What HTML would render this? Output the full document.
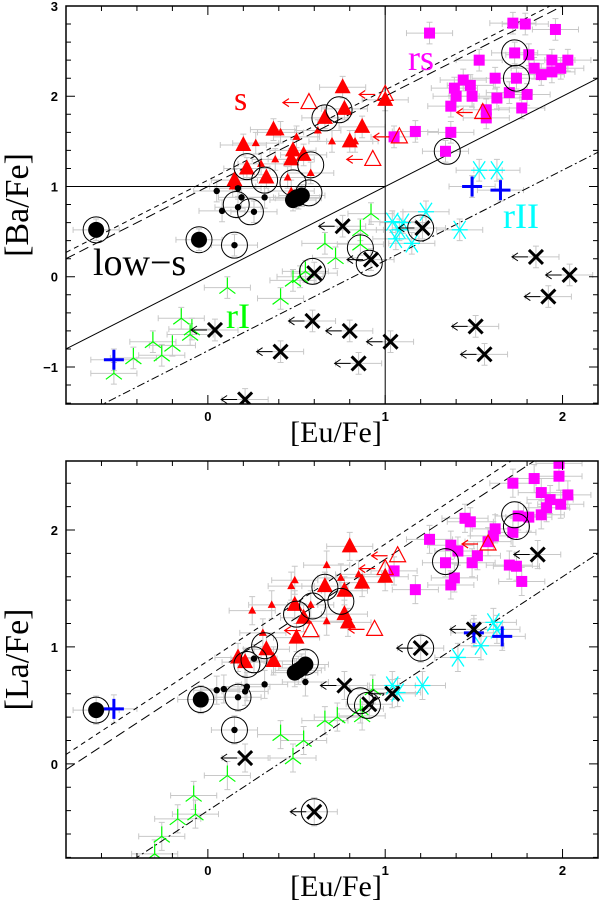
<!DOCTYPE html>
<html><head><meta charset="utf-8"><style>
html,body{margin:0;padding:0;background:#fff;}
svg{display:block;}
text{font-family:"Liberation Serif",serif;}
.tk{font-family:"Liberation Sans",sans-serif;font-size:13px;font-weight:bold;}
</style></head><body>
<svg id="chart" width="600" height="909" viewBox="0 0 600 909" xmlns="http://www.w3.org/2000/svg"></svg>
<script>
// ===== Top panel data: [Eu/Fe], [Ba/Fe] =====
const topBigDots=[[-0.63,0.52],[-0.05,0.41],[0.48,0.85],[0.51,0.87],[0.53,0.9],[0.5,0.88]];
const topSmallDots=[[0.05,0.95],[0.17,0.98],[0.19,0.88],[0.17,0.77],[0.08,0.73],[0.26,0.72],[0.32,0.88],[0.15,0.35]];
const topRings=[[-0.63,0.52],[-0.05,0.41],[0.22,1.22],[0.32,1.07],[0.16,0.8],[0.24,0.72],[0.15,0.35],[0.66,1.76],[0.74,1.85],[0.58,1.24],[0.48,1.04],[0.57,0.93],[0.86,0.32],[0.91,0.15],[1.2,0.54],[0.59,0.06],[1.73,2.48],[1.74,2.2],[1.35,1.39]];
const topBigTri=[[0.2,1.46],[0.22,1.2],[0.37,1.63],[0.33,1.1],[0.15,1.07],[0.48,1.4],[0.76,2.1],[0.77,1.86],[0.66,1.76],[0.87,1.66],[0.8,1.5],[1.0,1.96],[0.54,1.35],[0.47,1.3]];
const topSmallTri=[[0.27,1.48],[0.41,1.6],[0.45,1.1],[0.3,1.25],[0.7,1.5],[0.83,1.5],[0.62,1.62],[0.47,0.95],[0.14,1.0],[0.38,1.3],[0.5,1.55],[0.58,1.15]];
const topOpenTri=[[0.57,1.93],[1.0,2.02],[0.93,1.3],[1.08,1.55],[1.55,1.82]];
const topSquares=[[1.25,2.7],[1.72,2.81],[1.79,2.8],[1.96,2.74],[1.53,2.4],[1.73,2.48],[1.81,2.46],[1.94,2.4],[2.03,2.4],[1.84,2.31],[1.88,2.24],[1.94,2.27],[1.99,2.31],[1.44,2.18],[1.62,2.2],[1.74,2.2],[1.39,2.09],[1.48,2.12],[1.4,2.0],[1.49,2.0],[1.63,1.98],[1.7,2.04],[1.8,2.02],[1.37,1.89],[1.57,1.85],[1.57,1.76],[1.77,1.87],[1.05,1.55],[1.17,1.61],[1.37,1.6],[1.34,1.39]];
const topCyan=[[1.53,1.18],[1.63,1.18],[1.04,0.61],[1.08,0.52],[1.23,0.72],[1.06,0.42],[1.15,0.37],[1.42,0.52],[1.1,0.6]];
const topBlue=[[1.49,1.0],[1.65,0.96],[-0.53,-0.92]];
const topGreen=[[0.11,-0.12],[-0.15,-0.46],[-0.09,-0.58],[-0.31,-0.72],[-0.2,-0.76],[-0.26,-0.87],[-0.42,-0.9],[-0.53,-1.07],[-0.1,-0.64],[0.41,-0.24],[0.48,-0.04],[0.92,0.7],[0.86,0.52],[0.66,0.37],[0.72,0.21],[0.52,0.0],[0.55,0.06],[0.86,0.36]];
const topX=[[0.04,-0.59],[0.41,-0.83],[0.21,-1.36],[0.76,0.56],[0.6,0.04],[0.92,0.19],[1.21,0.54],[0.59,-0.49],[0.8,-0.6],[1.03,-0.72],[0.85,-0.96],[1.51,-0.55],[1.56,-0.86],[1.85,0.22],[2.04,0.02],[1.92,-0.22]];
const topXArrow=[1,1,1,1,0,1,1,1,1,1,1,1,1,1,1,1];
// ===== Bottom panel data: [Eu/Fe], [La/Fe] =====
const botBigDots=[[-0.63,0.46],[-0.04,0.55],[0.49,0.78],[0.53,0.82],[0.55,0.85],[0.51,0.8]];
const botSmallDots=[[0.05,0.63],[0.09,0.64],[0.22,0.66],[0.21,0.62],[0.32,0.68],[0.26,0.9],[0.17,0.57],[0.15,0.29],[0.55,0.7]];
const botRings=[[-0.63,0.46],[-0.04,0.55],[0.17,0.57],[0.15,0.29],[0.32,1.01],[0.26,0.89],[0.22,0.85],[0.5,1.28],[0.59,1.35],[0.66,1.51],[0.75,1.39],[0.55,0.87],[0.86,0.54],[0.9,0.5],[1.2,0.99],[0.6,-0.41],[1.34,1.73],[1.73,2.13],[1.74,2.03]];
const botBigTri=[[0.17,0.91],[0.21,0.87],[0.37,0.88],[0.33,0.98],[0.49,1.36],[0.5,1.08],[0.54,1.25],[0.66,1.52],[0.77,1.48],[0.77,1.28],[0.79,1.21],[0.8,1.86],[0.87,1.55],[1.0,1.6]];
const botSmallTri=[[0.25,1.31],[0.36,1.36],[0.49,1.57],[0.47,1.52],[0.67,1.7],[0.58,1.36],[0.67,1.22],[0.85,1.62],[0.75,1.59],[0.31,1.12]];
const botOpenTri=[[0.58,1.14],[0.94,1.15],[1.07,1.78],[1.0,1.67],[1.58,1.88]];
const botSquares=[[1.98,2.57],[1.98,2.46],[1.72,2.4],[1.84,2.44],[1.88,2.32],[1.93,2.26],[2.03,2.3],[1.99,2.22],[1.91,2.19],[1.88,2.13],[1.81,2.11],[1.75,2.12],[1.72,1.98],[1.45,2.1],[1.48,2.07],[1.62,2.01],[1.61,1.95],[1.58,1.9],[1.25,1.92],[1.37,1.87],[1.41,1.82],[1.52,1.78],[1.49,1.72],[1.34,1.72],[1.39,1.59],[1.37,1.53],[1.05,1.65],[1.17,1.49],[1.7,1.7],[1.74,1.69],[1.77,1.56]];
const botCyan=[[1.61,1.21],[1.63,1.15],[1.54,1.01],[1.41,0.91],[1.21,0.67],[1.04,0.67],[1.07,0.61]];
const botBlue=[[1.5,1.12],[1.66,1.09],[-0.53,0.47]];
const botGreen=[[0.93,0.64],[0.86,0.47],[0.87,0.41],[0.73,0.4],[0.66,0.37],[0.41,0.25],[0.54,0.2],[0.48,0.05],[0.11,-0.1],[-0.08,-0.27],[-0.07,-0.43],[-0.17,-0.47],[-0.26,-0.62],[-0.3,-0.77]];
const botX=[[0.21,0.05],[0.77,0.67],[1.04,0.6],[0.91,0.51],[1.2,0.99],[1.5,1.15],[1.86,1.79],[0.6,-0.41]];
const botXArrow=[1,1,1,0,1,1,1,1];
// reference lines: offsets for slope-1 lines
const topLineOffsets=[1.07,1.0,0.0,-0.82];
const botLineOffsets=[0.88,0.75,-0.4];
const xTicks=[0,1,2];
const topYTicks=[-1,0,1,2,3];
const botYTicks=[0,1,2];

const NS="http://www.w3.org/2000/svg";
const svg=document.getElementById('chart');
function mk(tag,attrs,parent){const e=document.createElementNS(NS,tag);for(const k in attrs)e.setAttribute(k,attrs[k]);(parent||svg).appendChild(e);return e;}

function panel(cfg){
  const {x0,x1,y0,y1,xmin,xmax,ymin,ymax,name}=cfg;
  const sx=v=>x0+(v-xmin)/(xmax-xmin)*(x1-x0);
  const sy=v=>y1-(v-ymin)/(ymax-ymin)*(y1-y0);
  const g=mk('g',{});
  
  
  mk('defs',{},g).innerHTML='<clipPath id="clip-'+name+'"><rect x="'+x0+'" y="'+y0+'" width="'+(x1-x0)+'" height="'+(y1-y0)+'"/></clipPath>';
  const pl=mk('g',{'clip-path':'url(#clip-'+name+')'},g);
  return {sx,sy,g,pl,cfg};
}
function lineSlope1(P,off,dash,nm){
  const {xmin,xmax}=P.cfg;
  const l=mk('line',{x1:P.sx(xmin),y1:P.sy(xmin+off),x2:P.sx(xmax),y2:P.sy(xmax+off),stroke:'#000','stroke-width':1,'stroke-dasharray':dash},P.pl);
  
  
}
function errbars(P,arr){
  arr.forEach(d=>{
    const x=P.sx(d[0]),y=P.sy(d[1]);
    const ex=P.sx(d[0]+0.13)-x, ey=y-P.sy(d[1]+0.12);
    const e=mk('path',{d:`M${x-ex},${y}H${x+ex}M${x-ex},${y-3}V${y+3}M${x+ex},${y-3}V${y+3}M${x},${y-ey}V${y+ey}M${x-3},${y-ey}H${x+3}M${x-3},${y+ey}H${x+3}`,stroke:'#c8c8c8','stroke-width':1,fill:'none'},P.pl);
    
    
  });
}
function marks(P,arr,type,nm,arrows){
  arr.forEach((d,i)=>{
    const x=P.sx(d[0]),y=P.sy(d[1]);let e;
    if(type==='bigdot')e=mk('circle',{cx:x,cy:y,r:8,fill:'#000'},P.pl);
    else if(type==='dot')e=mk('circle',{cx:x,cy:y,r:3.2,fill:'#000'},P.pl);
    else if(type==='ring')e=mk('circle',{cx:x,cy:y,r:13,fill:'none',stroke:'#000','stroke-width':1},P.pl);
    else if(type==='bigtri')e=mk('path',{d:`M${x},${y-9}L${x+8},${y+6}L${x-8},${y+6}Z`,fill:'#f00'},P.pl);
    else if(type==='smalltri')e=mk('path',{d:`M${x},${y-4.5}L${x+4},${y+3}L${x-4},${y+3}Z`,fill:'#f00'},P.pl);
    else if(type==='opentri'){e=mk('path',{d:`M${x},${y-9}L${x+8},${y+6}L${x-8},${y+6}Z M${x-10},${y}H${x-26}M${x-20},${y-4}L${x-26},${y}L${x-20},${y+4}`,fill:'none',stroke:'#f00','stroke-width':1.2},P.pl);}
    else if(type==='square')e=mk('rect',{x:x-5.5,y:y-5.5,width:11,height:11,fill:'#f0f'},P.pl);
    else if(type==='cyan')e=mk('path',{d:`M${x-8},${y}H${x+8}M${x-6},${y-9}L${x+6},${y+9}M${x+6},${y-9}L${x-6},${y+9}`,stroke:'#0ff','stroke-width':1.3,fill:'none'},P.pl);
    else if(type==='blue')e=mk('path',{d:`M${x-10},${y}H${x+10}M${x},${y-10}V${y+10}`,stroke:'#00f','stroke-width':3,fill:'none'},P.pl);
    else if(type==='green')e=mk('path',{d:`M${x},${y}V${y-10}M${x},${y}L${x-8},${y+6}M${x},${y}L${x+8},${y+6}`,stroke:'#0f0','stroke-width':1.2,fill:'none'},P.pl);
    else if(type==='x'){
      let dd=`M${x-7},${y-7}L${x+7},${y+7}M${x+7},${y-7}L${x-7},${y+7}`;
      e=mk('path',{d:dd,stroke:'#000','stroke-width':3,fill:'none'},P.pl);
      if(arrows&&arrows[i]){const a=mk('path',{d:`M${x-8},${y}H${x-24}M${x-18},${y-4}L${x-24},${y}L${x-18},${y+4}`,stroke:'#000','stroke-width':1,fill:'none'},P.pl);
        
        }
    }
    
    
  });
}
function axes(P,yTicks,ytitle,xMinorStep,yMinorStep){
  const {x0,x1,y0,y1,xmin,xmax,ymin,ymax,name}=P.cfg;
  const r=mk('rect',{x:x0,y:y0,width:x1-x0,height:y1-y0,fill:'none',stroke:'#000','stroke-width':1.5},P.g);
  
  
  let d='';
  for(let v=Math.ceil(xmin/xMinorStep)*xMinorStep;v<=xmax+1e-9;v+=xMinorStep){
    const major=Math.abs(v-Math.round(v))<1e-6;const L=major?9:5;const x=P.sx(v);
    d+=`M${x},${y1}v${-L}M${x},${y0}v${L}`;}
  for(let v=Math.ceil(ymin/yMinorStep)*yMinorStep;v<=ymax+1e-9;v+=yMinorStep){
    const major=Math.abs(v-Math.round(v))<1e-6;const L=major?9:5;const y=P.sy(v);
    d+=`M${x0},${y}h${L}M${x1},${y}h${-L}`;}
  const t=mk('path',{d,stroke:'#000','stroke-width':1,fill:'none'},P.g);
  
  
  xTicks.forEach(v=>{const tx=mk('text',{x:P.sx(v),y:y1+17,'text-anchor':'middle',class:'tk'},P.g);tx.textContent=String(v);
    
    });
  yTicks.forEach(v=>{const tx=mk('text',{x:x0-8,y:P.sy(v)+5,'text-anchor':'end',class:'tk'},P.g);tx.textContent=v<0?'\u2212'+(-v):String(v);
    
    });
  const xt=mk('text',{x:(x0+x1)/2+4,y:y1+38,'text-anchor':'middle','font-size':30},P.g);xt.textContent='[Eu/Fe]';
  
  
  const cy=(y0+y1)/2;
  const yt=mk('text',{x:28,y:cy,'text-anchor':'middle','font-size':34,transform:`rotate(-90 28 ${cy})`},P.g);yt.textContent=ytitle;
  
  
}
function label(P,txt,x,y,col,size,nm){
  const t=mk('text',{x,y,fill:col,'font-size':size},P.g);t.textContent=txt;
  
  
}

// ---- TOP ----
const T=panel({x0:66,x1:598,y0:6,y1:404,xmin:-0.8,xmax:2.2,ymin:-1.41,ymax:3.0,name:'top'});
const allTop=[].concat(topBigTri,topSmallTri,topSquares,topCyan,topBlue,topGreen,topX,topSmallDots,topBigDots);
errbars(T,allTop);
(function(){const h=mk('line',{x1:T.sx(-0.8),y1:T.sy(1),x2:T.sx(1),y2:T.sy(1),stroke:'#000','stroke-width':1},T.pl);


const v=mk('line',{x1:T.sx(1),y1:T.sy(-1.41),x2:T.sx(1),y2:T.sy(3),stroke:'#000','stroke-width':1},T.pl);

})();
const dashes=['5,4','10,5','','8,3,2,3'];
topLineOffsets.forEach((o,i)=>lineSlope1(T,o,dashes[i],'top-ref-line'));
marks(T,topGreen,'green','rI-star');
marks(T,topCyan,'cyan','rII-star');
marks(T,topSquares,'square','rs-star');
marks(T,topBigTri,'bigtri','s-star');
marks(T,topSmallTri,'smalltri','s-star-small');
marks(T,topOpenTri,'opentri','s-star-limit');
marks(T,topBigDots,'bigdot','low-s-star');
marks(T,topSmallDots,'dot','low-s-star-small');
marks(T,topRings,'ring','binary-ring');
marks(T,topBlue,'blue','blue-star');
marks(T,topX,'x','limit-star',topXArrow);
axes(T,topYTicks,'[Ba/Fe]',0.2,0.2);
label(T,'s',234,110,'#f00',34,'s-label');
label(T,'rs',408,70,'#f0f',36,'rs-label');
label(T,'low\u2212s',93,275,'#000',38,'low-s-label');
label(T,'rI',226,328,'#0f0',36,'rI-label');
label(T,'rII',503,228,'#0ff',36,'rII-label');

// ---- BOTTOM ----
const B=panel({x0:66,x1:598,y0:461,y1:858,xmin:-0.8,xmax:2.2,ymin:-0.805,ymax:2.59,name:'bottom'});
const allBot=[].concat(botBigTri,botSmallTri,botSquares,botCyan,botBlue,botGreen,botX,botSmallDots,botBigDots);
errbars(B,allBot);
const bd=['5,4','10,5','8,3,2,3'];
botLineOffsets.forEach((o,i)=>lineSlope1(B,o,bd[i],'bottom-ref-line'));
marks(B,botGreen,'green','rI-star');
marks(B,botCyan,'cyan','rII-star');
marks(B,botSquares,'square','rs-star');
marks(B,botBigTri,'bigtri','s-star');
marks(B,botSmallTri,'smalltri','s-star-small');
marks(B,botOpenTri,'opentri','s-star-limit');
marks(B,botBigDots,'bigdot','low-s-star');
marks(B,botSmallDots,'dot','low-s-star-small');
marks(B,botRings,'ring','binary-ring');
marks(B,botBlue,'blue','blue-star');
marks(B,botX,'x','limit-star',botXArrow);
axes(B,botYTicks,'[La/Fe]',0.2,0.2);
</script>
</body></html>
